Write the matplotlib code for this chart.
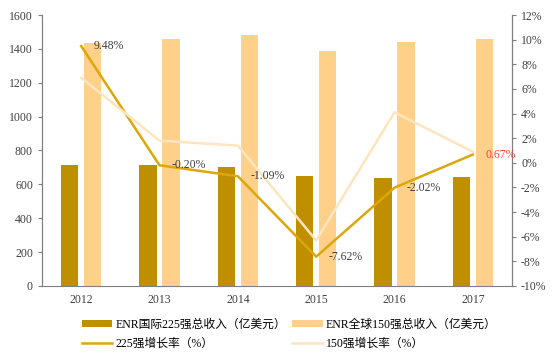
import matplotlib
matplotlib.use("Agg")
import matplotlib.pyplot as plt
import numpy as np

# --- Data ---
years = ["2012", "2013", "2014", "2015", "2016", "2017"]
rev_225 = [714, 714, 703, 651, 640, 643]
rev_150 = [1433, 1458, 1482, 1387, 1442, 1458]
growth_225 = [9.48, -0.20, -1.09, -7.62, -2.02, 0.67]
growth_150 = [6.9, 1.8, 1.4, -6.3, 4.1, 0.9]
labels_225 = ["9.48%", "-0.20%", "-1.09%", "-7.62%", "-2.02%", "0.67%"]

plt.rcParams["font.family"] = ["Liberation Serif", "Noto Sans CJK SC", "DejaVu Sans"]
plt.rcParams["font.size"] = 8.5

DARK = "#BF8F00"
LIGHT = "#FFD08A"
LINE_225 = "#DDA60A"
LINE_150 = "#FFE5BF"
AXIS = "#7F7F7F"

fig = plt.figure(figsize=(5.55, 3.6), dpi=100)
ax = fig.add_axes([0.0757, 0.2056, 0.8468, 0.7527])
x = np.arange(len(years))
w = 0.22
b1 = ax.bar(x - 0.147, rev_225, w, color=DARK, label="ENR国际225强总收入（亿美元）")
b2 = ax.bar(x + 0.147, rev_150, w, color=LIGHT, label="ENR全球150强总收入（亿美元）")
ax.set_ylim(0, 1600)
ax.set_yticks(range(0, 1601, 200))
ax.set_xlim(-0.5, 5.5)
ax.set_xticks(x)
ax.set_xticklabels(years)

ax2 = ax.twinx()
l1, = ax2.plot(x, growth_225, color=LINE_225, lw=1.8, label="225强增长率（%）")
l2, = ax2.plot(x, growth_150, color=LINE_150, lw=1.8, label="150强增长率（%）")
ax2.set_ylim(-10, 12)
ax2.set_yticks(range(-10, 13, 2))
ax2.set_yticklabels([f"{v}%" for v in range(-10, 13, 2)])
ax2.set_zorder(ax.get_zorder() + 1)

for i, (v, t) in enumerate(zip(growth_225, labels_225)):
    col = "#FF3B3B" if i == len(years) - 1 else "#404040"
    ax2.annotate(t, (x[i], v), xytext=(9, 0), textcoords="offset points",
                 va="center", ha="left", color=col, fontsize=8.5)

for a in (ax, ax2):
    a.spines["top"].set_visible(False)
    for s in ("left", "right", "bottom"):
        a.spines[s].set_color(AXIS)
    a.tick_params(colors="#404040", length=3, color=AXIS)
ax.tick_params(axis="x", length=0, pad=6)
ax2.spines["bottom"].set_visible(False)

# legend: bars on the first row, lines on the second
fig.legend([b1, l1, b2, l2], [b1.get_label(), l1.get_label(), b2.get_label(), l2.get_label()],
           loc="lower left", bbox_to_anchor=(0.128, 0.0), ncol=2, frameon=False,
           fontsize=8.5, handlelength=2.6, handleheight=0.5, columnspacing=0.45,
           labelspacing=0.55, handletextpad=0.3)

fig.savefig("out.png", dpi=100)
